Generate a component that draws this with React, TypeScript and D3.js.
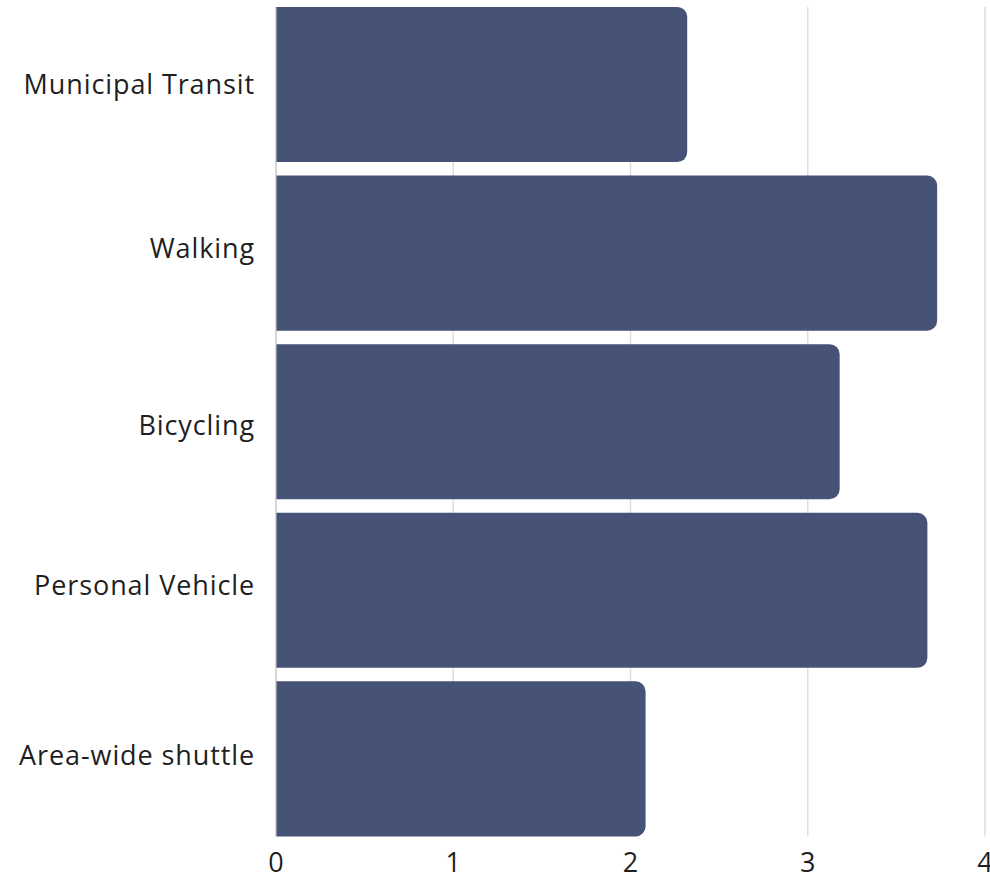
import React from "react";
import * as d3 from "d3";

const categories = ["Municipal Transit", "Walking", "Bicycling", "Personal Vehicle", "Area-wide shuttle"];
const values = [2.32, 3.73, 3.18, 3.675, 2.085];
const xTicks = [0, 1, 2, 3, 4];

const W = 990;
const H = 877;
const FONT = "'Open Sans', 'Noto Sans', sans-serif";
// small per-label vertical nudges seen in the reference rendering
const labelNudge = [0, -4.5, 4.5, -4, -3];

function barPath(x0: number, y0: number, w: number, h: number, r: number) {
  const rr = Math.min(r, w, h / 2);
  return `M${x0},${y0}H${x0 + w - rr}A${rr},${rr} 0 0 1 ${x0 + w},${y0 + rr}V${y0 + h - rr}A${rr},${rr} 0 0 1 ${x0 + w - rr},${y0 + h}H${x0}Z`;
}

export default function App() {
  const x = d3.scaleLinear().domain([0, 4]).range([276, 985]);
  const y = d3
    .scaleBand<string>()
    .domain(categories)
    .range([0.2, 843.2])
    .paddingInner(0.08)
    .paddingOuter(0.04);
  const top = y(categories[0])!;
  const bottom = y(categories[categories.length - 1])! + y.bandwidth();

  return (
    <svg
      width={W}
      height={H}
      style={{ position: "absolute", left: 0, top: 0, display: "block", background: "#fff" }}
    >
      {xTicks.slice(1).map((t) => (
        <line key={t} x1={x(t)} x2={x(t)} y1={top} y2={bottom} stroke="#dedede" strokeWidth={1.5} />
      ))}
      <line x1={x(0)} x2={x(0)} y1={top} y2={bottom} stroke="#c8c8c8" strokeWidth={1.5} />
      {categories.map((c, i) => (
        <path
          key={c}
          d={barPath(x(0) + 0.5, y(c)!, x(values[i]) - x(0) - 0.5, y.bandwidth(), 10)}
          fill="#465377"
        />
      ))}
      {categories.map((c, i) => (
        <text
          key={c}
          x={255}
          y={y(c)! + y.bandwidth() / 2 + 9 + labelNudge[i]}
          textAnchor="end"
          fontFamily={FONT}
          fontSize={27}
          letterSpacing={0.9}
          fill="#1f1f1f"
        >
          {c}
        </text>
      ))}
      {xTicks.map((t) => (
        <text
          key={t}
          x={x(t)}
          y={871.5}
          textAnchor="middle"
          fontFamily={FONT}
          fontSize={27}
          fill="#1f1f1f"
        >
          {t}
        </text>
      ))}
    </svg>
  );
}
